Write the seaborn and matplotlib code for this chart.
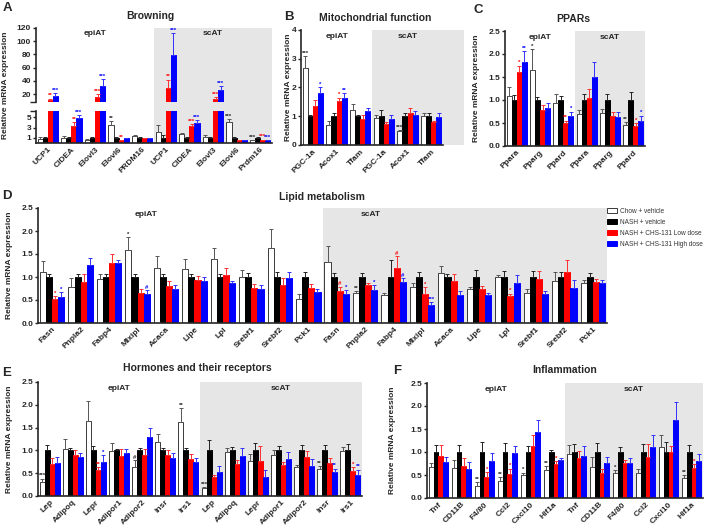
import numpy as np
import pandas as pd
import matplotlib
matplotlib.use('Agg')
import matplotlib.pyplot as plt
import seaborn as sns
from matplotlib.patches import Patch

sns.set_style('ticks')
plt.rcParams['font.family'] = ['Liberation Sans', 'DejaVu Sans']
plt.rcParams['font.weight'] = 'bold'
plt.rcParams['axes.labelweight'] = 'bold'

groups = ['Chow + vehicle', 'NASH + vehicle', 'NASH + CHS-131 Low dose', 'NASH + CHS-131 High dose']
fill = ['white', 'black', '#ff0000', '#0000ff']
edge = ['#3a3a3a', 'black', '#ff0000', '#0000ff']
errc = ['#555555', '#222222', '#ff3030', '#3030ff']
sigc = ['#222222', '#222222', '#ff0000', '#0000ff']
SHADE = '#e6e6e6'

# ---- A: browning (broken axis)
a_genes = ['UCP1', 'CIDEA', 'Elovl3', 'Elovl6', 'PRDM16', 'UCP1', 'CIDEA', 'Elovl3', 'Elovl6', 'Prdm16']
a_chow = [0.8, 1.05, 0.6, 3.4, 1.4, 2.1, 1.7, 1.1, 4.0, 0.5]
a_chow_sem = [0.3, 0.25, 0.1, 0.8, 0.2, 1.3, 0.25, 0.4, 0.7, 0.1]
a_nash = [1.0, 1.0, 1.0, 1.0, 1.0, 1.0, 1.0, 1.0, 1.0, 1.0]
a_nash_sem = [0.15, 0.1, 0.15, 0.1, 0.1, 0.5, 0.1, 0.15, 0.1, 0.2]
a_low = [10.5, 3.3, 16.0, 0.5, 1.0, 29.5, 3.2, 12.0, 0.6, 0.6]
a_low_sem = [2.5, 0.8, 4.0, 0.05, 0.05, 12.5, 0.5, 3.0, 0.05, 0.05]
a_high = [17.0, 4.8, 32.5, 0.9, 1.0, 79.0, 3.9, 25.5, 0.6, 0.5]
a_high_sem = [4.0, 0.6, 10.0, 0.05, 0.05, 33.0, 0.6, 6.0, 0.05, 0.05]
a_chow_sig = ['', '', '', '**', '', '', '', '', '***', '***']
a_nash_sig = [''] * 10
a_low_sig = ['**', '**', '***', '**', '', '**', '***', '***', '', '***']
a_high_sig = ['***', '***', '***', '', '', '***', '***', '***', '', '***']

# ---- B: mitochondrial function
b_genes = ['PGC-1a', 'Acox1', 'Tfam', 'PGC-1a', 'Acox1', 'Tfam']
b_chow = [2.67, 0.7, 1.2, 0.95, 0.5, 1.02]
b_chow_sem = [0.41, 0.12, 0.23, 0.1, 0.03, 0.08]
b_nash = [1.0, 1.0, 1.0, 1.0, 1.0, 1.0]
b_nash_sem = [0.05, 0.1, 0.05, 0.2, 0.1, 0.1]
b_low = [1.35, 1.53, 0.92, 0.72, 1.12, 0.8]
b_low_sem = [0.23, 0.12, 0.11, 0.08, 0.18, 0.05]
b_high = [1.82, 1.62, 1.17, 0.9, 1.06, 0.97]
b_high_sem = [0.18, 0.18, 0.1, 0.13, 0.11, 0.16]
b_chow_sig = ['***', '', '', '', '***', '']
b_nash_sig = [''] * 6
b_low_sig = ['', '*', '', '', '', '']
b_high_sig = ['*', '**', '', '', '', '']

# ---- C: PPARs
c_genes = ['Ppara', 'Pparg', 'Ppard', 'Ppara', 'Pparg', 'Ppard']
c_chow = [1.08, 1.65, 0.93, 0.69, 0.72, 0.46]
c_chow_sem = [0.2, 0.45, 0.19, 0.1, 0.09, 0.06]
c_nash = [1.0, 1.0, 1.0, 1.0, 1.0, 1.0]
c_nash_sem = [0.1, 0.06, 0.08, 0.13, 0.12, 0.18]
c_low = [1.6, 0.78, 0.49, 1.05, 0.66, 0.43]
c_low_sem = [0.15, 0.12, 0.06, 0.19, 0.09, 0.07]
c_high = [1.83, 0.82, 0.65, 1.5, 0.64, 0.55]
c_high_sem = [0.23, 0.11, 0.1, 0.33, 0.1, 0.11]
c_chow_sig = ['', '*', '', '', '', '**']
c_nash_sig = [''] * 6
c_low_sig = ['*', '', '**', '', '', '*']
c_high_sig = ['**', '', '*', '', '', '*']

# ---- D: lipid metabolism
d_genes = ['Fasn', 'Pnpla2', 'Fabp4', 'Mlxipl', 'Acaca', 'Lipe', 'Lpl', 'Srebf1', 'Srebf2', 'Pck1'] * 2
d_chow = [1.1, 0.78, 0.96, 1.58, 1.19, 1.18, 1.4, 1.01, 1.63, 0.53,
          1.32, 0.66, 0.6, 0.78, 1.08, 0.74, 1.01, 0.65, 0.92, 0.87]
d_chow_sem = [0.25, 0.19, 0.1, 0.29, 0.27, 0.21, 0.23, 0.14, 0.42, 0.1,
              0.35, 0.04, 0.05, 0.08, 0.17, 0.05, 0.03, 0.1, 0.18, 0.06]
d_nash = [1.0] * 20
d_nash_sem = [0.07, 0.06, 0.06, 0.07, 0.07, 0.06, 0.06, 0.08, 0.1, 0.1,
              0.09, 0.09, 0.37, 0.1, 0.07, 0.15, 0.12, 0.12, 0.1, 0.09]
d_low = [0.52, 0.9, 1.31, 0.66, 0.8, 0.93, 1.05, 0.76, 0.83, 0.77,
         0.7, 0.82, 1.2, 0.64, 0.92, 0.74, 0.59, 0.96, 1.1, 0.9]
d_low_sem = [0.06, 0.17, 0.19, 0.08, 0.12, 0.09, 0.15, 0.09, 0.14, 0.08,
             0.09, 0.06, 0.25, 0.14, 0.15, 0.06, 0.05, 0.16, 0.26, 0.05]
d_high = [0.57, 1.26, 1.3, 0.64, 0.74, 0.92, 0.86, 0.75, 0.97, 0.68,
          0.62, 0.72, 0.9, 0.39, 0.61, 0.6, 0.87, 0.64, 0.77, 0.87]
d_high_sem = [0.1, 0.16, 0.08, 0.08, 0.08, 0.08, 0.06, 0.07, 0.14, 0.07,
              0.1, 0.1, 0.07, 0.06, 0.09, 0.06, 0.18, 0.06, 0.16, 0.06]
d_chow_sig = ['', '', '', '*', '', '', '', '', '', '',
              '', '**', '', '', '', '', '', '', '', '']
d_nash_sig = [''] * 20
d_low_sig = ['*', '', '', '', '', '', '', '', '', '',
             '#', '', '#', '*', '', '', '*', '', '', '']
d_high_sig = ['*', '', '', '#', '', '', '', '', '', '',
              '*', '*', '#', '***', '', '', '', '', '', '']

# ---- E: hormones and their receptors
e_genes = ['Lep', 'Adipoq', 'Lepr', 'Adipor1', 'Adipor2', 'Insr', 'Irs1'] * 2
e_chow = [0.3, 1.04, 1.65, 0.99, 0.64, 1.19, 1.63, 0.17, 0.96, 0.77, 0.91, 0.63, 0.59, 0.98]
e_chow_sem = [0.08, 0.21, 0.43, 0.17, 0.14, 0.18, 0.3, 0.03, 0.09, 0.15, 0.09, 0.05, 0.06, 0.09]
e_nash = [1.0] * 14
e_nash_sem = [0.12, 0.05, 0.09, 0.04, 0.06, 0.06, 0.06, 0.23, 0.07, 0.17, 0.1, 0.12, 0.12, 0.15]
e_low = [0.71, 0.89, 0.58, 0.87, 0.91, 0.9, 0.82, 0.42, 0.7, 0.77, 0.67, 0.85, 0.72, 0.55]
e_low_sem = [0.13, 0.11, 0.06, 0.15, 0.13, 0.1, 0.11, 0.05, 0.1, 0.33, 0.07, 0.13, 0.12, 0.08]
e_high = [0.73, 0.86, 0.75, 0.94, 1.29, 0.84, 0.74, 0.52, 0.87, 0.41, 0.81, 0.66, 0.52, 0.46]
e_high_sem = [0.13, 0.09, 0.14, 0.09, 0.2, 0.1, 0.09, 0.13, 0.19, 0.15, 0.16, 0.16, 0.08, 0.12]
e_chow_sig = ['***', '', '', '', '#', '', '**', '***', '', '', '', '', '**', '']
e_nash_sig = [''] * 14
e_low_sig = ['', '', '**', '', '', '', '', '', '', '', '', '', '', '*']
e_high_sig = ['', '', '*', '', '', '', '', '', '', '', '', '', '**', '**']

# ---- F: inflammation
f_genes = ['Tnf', 'CD11B', 'F4/80', 'Ccl2', 'Cxcl10', 'Hif1a'] * 2
f_chow = [0.67, 0.65, 0.26, 0.36, 0.5, 0.6, 0.95, 0.67, 0.55, 0.54, 1.11, 0.44]
f_chow_sem = [0.1, 0.17, 0.09, 0.1, 0.05, 0.1, 0.21, 0.22, 0.05, 0.1, 0.27, 0.06]
f_nash = [1.0] * 12
f_nash_sem = [0.15, 0.16, 0.22, 0.2, 0.12, 0.05, 0.18, 0.2, 0.1, 0.17, 0.22, 0.15]
f_low = [0.91, 0.69, 0.45, 0.52, 1.14, 0.74, 0.88, 0.55, 0.76, 0.89, 1.0, 0.66]
f_low_sem = [0.24, 0.18, 0.11, 0.12, 0.23, 0.06, 0.14, 0.07, 0.06, 0.29, 0.14, 0.07]
f_high = [0.78, 0.63, 0.8, 0.98, 1.44, 0.83, 0.91, 0.76, 0.76, 1.11, 1.7, 0.8]
f_high_sem = [0.12, 0.15, 0.18, 0.16, 0.26, 0.05, 0.21, 0.14, 0.12, 0.25, 0.38, 0.15]
f_chow_sig = ['', '', '**', '**', '*', '**', '', '', '*', '', '', '**']
f_nash_sig = [''] * 12
f_low_sig = ['', '', '*', '*', '', '*', '', '', '', '', '', '*']
f_high_sig = [''] * 12


W, H = 709, 532
fig = plt.figure(figsize=(W / 100, H / 100), dpi=100)


def add_ax(x0, y0, x1, y1):
    return fig.add_axes([x0 / W, 1 - y1 / H, (x1 - x0) / W, (y1 - y0) / H])


def draw_bars(ax, genes, means, sems, sigs):
    n = len(genes)
    df = pd.DataFrame({'pos': np.tile(np.arange(n), 4),
                       'group': np.repeat(groups, n),
                       'value': np.concatenate(means)})
    sns.barplot(data=df, x='pos', y='value', hue='group', hue_order=groups,
                palette=fill, saturation=1, errorbar=None, width=0.86,
                legend=False, ax=ax, zorder=2)
    bars = list(ax.containers)[:4]
    for k, cont in enumerate(bars):
        xs = [p.get_x() + p.get_width() / 2 for p in cont.patches]
        for p in cont.patches:
            p.set_edgecolor(edge[k])
            p.set_linewidth(0.7)
        ax.errorbar(xs, means[k], yerr=[np.zeros(n), sems[k]], fmt='none',
                    ecolor=errc[k], elinewidth=0.7, capsize=1.1, capthick=0.7, zorder=3)
        for x, m, s, t in zip(xs, means[k], sems[k], sigs[k]):
            if t:
                ax.annotate(t, (x, m + s), xytext=(0, 0.2), textcoords='offset points',
                            ha='center', va='bottom', fontsize=4.3, color=sigc[k],
                            annotation_clip=True)
    ax.set_xlim(-0.5, n - 0.5)
    ax.set_xlabel('')
    ax.set_ylabel('')
    ax.set_xticks(range(n))
    ax.set_xticklabels(genes, rotation=45, ha='right', rotation_mode='anchor')
    ax.spines[['top', 'right']].set_visible(False)
    ax.spines[['left', 'bottom']].set_linewidth(1.2)
    ax.tick_params(axis='y', length=2.5, width=1, labelsize=6, pad=1)
    ax.tick_params(axis='x', length=0, labelsize=6, pad=2)


def region_labels(ax, n_epi, n, epi_x=None, sc_x=None):
    tr = ax.get_xaxis_transform()
    ex = (n_epi - 1) / 2 if epi_x is None else epi_x
    sx = (n_epi + n - 1) / 2 if sc_x is None else sc_x
    ax.text(ex, 0.97, 'epiAT', transform=tr, ha='center', va='top', fontsize=6)
    ax.text(sx, 0.97, 'scAT', transform=tr, ha='center', va='top', fontsize=6)


def std_panel(box, genes, means, sems, sigs, n_epi, ylim, yticks, fmt,
              epi_x=None, sc_x=None, shade_end=None):
    ax = add_ax(*box)
    n = len(genes)
    end = n - 0.5 if shade_end is None else shade_end
    ax.axvspan(n_epi - 0.5, end, color=SHADE, lw=0, zorder=0, clip_on=False)
    draw_bars(ax, genes, means, sems, sigs)
    ax.set_ylim(*ylim)
    ax.set_yticks(yticks)
    ax.set_yticklabels([fmt.format(v) for v in yticks])
    region_labels(ax, n_epi, n, epi_x, sc_x)
    return ax


# ---- panel A, broken y axis
a_means = [a_chow, a_nash, a_low, a_high]
a_sems = [a_chow_sem, a_nash_sem, a_low_sem, a_high_sem]
a_sigs = [a_chow_sig, a_nash_sig, a_low_sig, a_high_sig]
ax_lo = add_ax(36, 111, 272, 143)
ax_lo.axvspan(4.5, 9.5, ymin=0, ymax=(143 - 28) / (143 - 111), color=SHADE, lw=0,
              zorder=0, clip_on=False)
draw_bars(ax_lo, a_genes, a_means, a_sems, a_sigs)
ax_lo.set_ylim(0, 6.2)
ax_lo.set_yticks([1, 3, 5])
ax_lo.set_yticks([6.2], minor=True)
ax_lo.tick_params(axis='y', which='minor', length=4, width=1)
ax_up = add_ax(36, 28, 272, 102)
ax_up.patch.set_visible(False)
draw_bars(ax_up, a_genes, a_means, a_sems, a_sigs)
ax_up.set_ylim(8, 120)
ax_up.set_yticks([20, 40, 60, 80, 100, 120])
ax_up.set_yticks([8], minor=True)
ax_up.tick_params(axis='y', which='minor', length=4, width=1)
ax_up.spines['bottom'].set_visible(False)
ax_up.set_xticks([])
region_labels(ax_up, 5, 10)

# ---- panels B-F
std_panel((301, 30, 443, 145), b_genes, [b_chow, b_nash, b_low, b_high],
          [b_chow_sem, b_nash_sem, b_low_sem, b_high_sem],
          [b_chow_sig, b_nash_sig, b_low_sig, b_high_sig], 3, (0, 4), [0, 1, 2, 3, 4], '{:g}',
          shade_end=6.4)
std_panel((505, 31, 645, 146), c_genes, [c_chow, c_nash, c_low, c_high],
          [c_chow_sem, c_nash_sem, c_low_sem, c_high_sem],
          [c_chow_sig, c_nash_sig, c_low_sig, c_high_sig], 3, (0, 2.5),
          [0, 0.5, 1, 1.5, 2, 2.5], '{:.1f}')
ax_d = std_panel((38, 208, 607, 323), d_genes, [d_chow, d_nash, d_low, d_high],
                 [d_chow_sem, d_nash_sem, d_low_sem, d_high_sem],
                 [d_chow_sig, d_nash_sig, d_low_sig, d_high_sig], 10, (0, 2.5),
                 [0, 0.5, 1, 1.5, 2, 2.5], '{:.1f}', epi_x=3.3, sc_x=11.2)
std_panel((38, 382, 362, 496), e_genes, [e_chow, e_nash, e_low, e_high],
          [e_chow_sem, e_nash_sem, e_low_sem, e_high_sem],
          [e_chow_sig, e_nash_sig, e_low_sig, e_high_sig], 7, (0, 2.5),
          [0, 0.5, 1, 1.5, 2, 2.5], '{:.1f}')
std_panel((427, 383, 703, 498), f_genes, [f_chow, f_nash, f_low, f_high],
          [f_chow_sem, f_nash_sem, f_low_sem, f_high_sem],
          [f_chow_sig, f_nash_sig, f_low_sig, f_high_sig], 6, (0, 2.5),
          [0, 0.5, 1, 1.5, 2, 2.5], '{:.1f}')

# ---- y labels, titles, panel letters
for x, y in [(6, 85), (288, 87), (477, 88), (10, 265), (10, 439), (392, 440)]:
    fig.text(x / W, 1 - y / H, 'Relative mRNA expression', rotation=90,
             ha='center', va='center', fontsize=6)
for txt, x, y in [('Browning', 150, 16), ('Mitochondrial function', 375, 18), ('PPARs', 573, 19),
                  ('Lipid metabolism', 322, 197), ('Hormones and their receptors', 197, 368),
                  ('Inflammation', 565, 370)]:
    fig.text(x / W, 1 - y / H, txt, ha='center', va='center', fontsize=7.5)
for txt, x, y in [('A', 7, 8), ('B', 289, 17), ('C', 478, 10), ('D', 7, 196),
                  ('E', 7, 373), ('F', 397, 371)]:
    fig.text(x / W, 1 - y / H, txt, ha='center', va='center', fontsize=9.5)

handles = [Patch(facecolor=fill[k], edgecolor=edge[k], linewidth=0.7) for k in range(4)]
fig.legend(handles, groups, loc='upper left', bbox_to_anchor=(607 / W, 1 - 208 / H),
           frameon=False, prop={'size': 4.7, 'weight': 'normal'}, labelcolor='#333333',
           handlelength=1.6, handleheight=0.8, labelspacing=0.6, handletextpad=0.4,
           borderaxespad=0, borderpad=0)

fig.savefig('out.png', dpi=100)
